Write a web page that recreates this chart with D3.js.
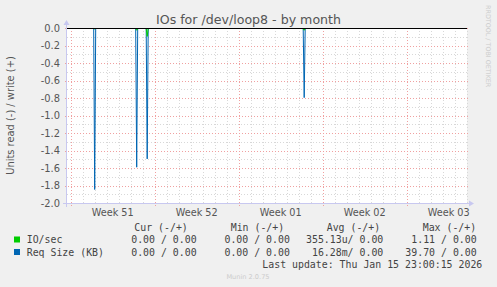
<!DOCTYPE html>
<html>
<head>
<meta charset="utf-8">
<script src="https://cdn.jsdelivr.net/npm/d3@7"></script>
<style>
body { margin: 0; background: #f0f0f0; }
text { font-family: "DejaVu Sans", sans-serif; }
.mono { font-family: "DejaVu Sans Mono", monospace; white-space: pre; }
</style>
</head>
<body>
<script>
// chart data
var timeStart = new Date("2025-12-14T16:36:00Z");
var timeEnd = new Date("2026-01-17T00:36:00Z");
var weekStarts = ["2025-12-15", "2025-12-22", "2025-12-29", "2026-01-05", "2026-01-12"];
var weekLabels = ["Week 51", "Week 52", "Week 01", "Week 02", "Week 03"];
var yTicks = [0, -0.2, -0.4, -0.6, -0.8, -1.0, -1.2, -1.4, -1.6, -1.8, -2.0];

// read side is drawn negative
var spikeTimes = ["2025-12-17T00:00:00Z", "2025-12-20T12:00:00Z", "2025-12-21T09:00:00Z", "2026-01-03T11:00:00Z"];
var reqSizeRead = [-1.84, -1.585, -1.49, -0.79];
var ioRead = [-0.005, -0.02, -0.09, -0.02];

var legendNames = ["IO/sec", "Req Size (KB)"];
var legendColors = ["#00cc00", "#0066b3"];
var legendCur = ["0.00 / 0.00", "0.00 / 0.00"];
var legendMin = ["0.00 / 0.00", "0.00 / 0.00"];
var legendAvg = ["355.13u/ 0.00", "16.28m/ 0.00"];
var legendMax = ["1.11 / 0.00", "39.70 / 0.00"];

var width = 497;
var height = 287;
var plotLeft = 67, plotRight = 467, plotTop = 28, plotBottom = 203;

var svg = d3.select("body").append("svg")
    .attr("width", width)
    .attr("height", height);

svg.append("rect")
    .attr("x", 0).attr("y", 0)
    .attr("width", width).attr("height", height)
    .attr("fill", "#f0f0f0");

var x = d3.scaleUtc().domain([timeStart, timeEnd]).range([plotLeft, plotRight]);
var y = d3.scaleLinear().domain([-2, 0]).range([plotBottom, plotTop]);

// plot area
svg.append("rect")
    .attr("x", plotLeft).attr("y", plotTop)
    .attr("width", plotRight - plotLeft).attr("height", plotBottom - plotTop)
    .attr("fill", "#ffffff");

// minor grid
var days = d3.utcDay.range(d3.utcDay.ceil(timeStart), timeEnd);
svg.selectAll(".vminor").data(days).enter().append("line")
    .attr("x1", function(d){ return Math.round(x(d)) + 0.5; })
    .attr("x2", function(d){ return Math.round(x(d)) + 0.5; })
    .attr("y1", plotTop).attr("y2", plotBottom)
    .attr("stroke", "#d8d8d8")
    .attr("stroke-dasharray", "1,2");

var tenths = d3.range(-19, 0, 2).map(function(v){ return v / 10; });
svg.selectAll(".hminor").data(tenths).enter().append("line")
    .attr("x1", plotLeft).attr("x2", plotRight)
    .attr("y1", function(d){ return Math.round(y(d)) + 0.5; })
    .attr("y2", function(d){ return Math.round(y(d)) + 0.5; })
    .attr("stroke", "#d8d8d8")
    .attr("stroke-dasharray", "1,2");

// major grid
var weeks = weekStarts.map(function(s){ return new Date(s + "T00:00:00Z"); });
svg.selectAll(".vmajor").data(weeks).enter().append("line")
    .attr("x1", function(d){ return Math.round(x(d)) + 0.5; })
    .attr("x2", function(d){ return Math.round(x(d)) + 0.5; })
    .attr("y1", plotTop).attr("y2", plotBottom + 3)
    .attr("stroke", "#f0a0a0")
    .attr("stroke-dasharray", "1,2");

svg.selectAll(".hmajor").data(yTicks).enter().append("line")
    .attr("x1", plotLeft - 2).attr("x2", plotRight + 2)
    .attr("y1", function(d){ return Math.round(y(d)) + 0.5; })
    .attr("y2", function(d){ return Math.round(y(d)) + 0.5; })
    .attr("stroke", "#f0a0a0")
    .attr("stroke-dasharray", "1,2");

// y tick labels
svg.selectAll(".ylab").data(yTicks).enter().append("text")
    .attr("x", 60)
    .attr("y", function(d){ return y(d); })
    .attr("dy", "0.36em")
    .attr("text-anchor", "end")
    .attr("font-size", "9.9px")
    .attr("fill", "#555")
    .text(function(d){ return d3.format(".1f")(d).replace("−", "-"); });

// week labels, centred in each week
svg.selectAll(".xlab").data(weeks).enter().append("text")
    .attr("x", function(d){ return x(d3.utcHour.offset(d, 84)); })
    .attr("y", 215.5)
    .attr("text-anchor", "middle")
    .attr("font-size", "9.7px")
    .attr("fill", "#555")
    .text(function(d, i){ return weekLabels[i]; });

// series: each spike is a one-step excursion from zero
function spikePoints(vals) {
    var pts = [[timeStart, 0]];
    spikeTimes.forEach(function(t, i){
        var d = new Date(t);
        pts.push([d3.utcHour.offset(d, -2), 0]);
        pts.push([d, vals[i]]);
        pts.push([d3.utcHour.offset(d, 2), 0]);
    });
    pts.push([timeEnd, 0]);
    return pts;
}

var line = d3.line()
    .x(function(d){ return x(d[0]); })
    .y(function(d){ return y(d[1]) + 0.5; });

svg.append("path")
    .datum(spikePoints(reqSizeRead))
    .attr("d", line)
    .attr("fill", "none")
    .attr("stroke", legendColors[1])
    .attr("stroke-width", 1);

svg.append("path")
    .datum(spikePoints(ioRead))
    .attr("d", line)
    .attr("fill", "none")
    .attr("stroke", legendColors[0])
    .attr("stroke-width", 1);

// zero rule on top of the series
svg.append("line")
    .attr("x1", plotLeft).attr("x2", plotRight)
    .attr("y1", y(0) + 0.5).attr("y2", y(0) + 0.5)
    .attr("stroke", "#000")
    .attr("stroke-width", 1);

// axes with arrows
var axisColor = "#c8c8f0";
svg.append("line")
    .attr("x1", plotLeft - 0.5).attr("x2", plotLeft - 0.5)
    .attr("y1", plotBottom + 4).attr("y2", plotTop - 4)
    .attr("stroke", axisColor);
svg.append("path")
    .attr("d", "M" + (plotLeft - 3.5) + "," + (plotTop - 3) + "L" + (plotLeft - 0.5) + "," + (plotTop - 8) + "L" + (plotLeft + 2.5) + "," + (plotTop - 3) + "Z")
    .attr("fill", axisColor);
svg.append("line")
    .attr("x1", plotLeft - 4).attr("x2", plotRight + 3)
    .attr("y1", plotBottom + 0.5).attr("y2", plotBottom + 0.5)
    .attr("stroke", axisColor);
svg.append("path")
    .attr("d", "M" + (plotRight + 2) + "," + (plotBottom - 2.5) + "L" + (plotRight + 7) + "," + (plotBottom + 0.5) + "L" + (plotRight + 2) + "," + (plotBottom + 3.5) + "Z")
    .attr("fill", axisColor);

// title
svg.append("text")
    .attr("x", 248.5).attr("y", 24)
    .attr("text-anchor", "middle")
    .attr("font-size", "12.6px")
    .attr("fill", "#555")
    .text("IOs for /dev/loop8 - by month");

// y axis title
svg.append("text")
    .attr("transform", "translate(14," + ((plotTop + plotBottom) / 2) + ") rotate(-90)")
    .attr("text-anchor", "middle")
    .attr("font-size", "9.9px")
    .attr("fill", "#555")
    .text("Units read (-) / write (+)");

// side credit
svg.append("text")
    .attr("transform", "translate(485.5,5) rotate(90)")
    .attr("text-anchor", "start")
    .attr("font-size", "6.4px")
    .attr("fill", "#cccccc")
    .text("RRDTOOL / TOBI OETIKER");

// legend
var mono = "9.9px";
var headers = [["Cur (-/+)", 134.3], ["Min (-/+)", 230.7], ["Avg (-/+)", 326.7], ["Max (-/+)", 422.7]];
svg.selectAll(".lhead").data(headers).enter().append("text")
    .attr("class", "mono")
    .attr("x", function(d){ return d[1]; })
    .attr("y", 231)
    .attr("font-size", mono)
    .attr("fill", "#444")
    .text(function(d){ return d[0]; });

var rowY = [243, 255.5];
legendNames.forEach(function(name, i){
    svg.append("rect")
        .attr("x", 14).attr("y", rowY[i] - 6.5)
        .attr("width", 6).attr("height", 6)
        .attr("fill", legendColors[i]);
    var cols = [[name, 26.7, "start"], [legendCur[i], 196.6, "end"], [legendMin[i], 289.9, "end"],
                [legendAvg[i], 383.3, "end"], [legendMax[i], 476.7, "end"]];
    cols.forEach(function(c){
        svg.append("text")
            .attr("class", "mono")
            .attr("x", c[1]).attr("y", rowY[i])
            .attr("text-anchor", c[2])
            .attr("font-size", mono)
            .attr("fill", "#444")
            .text(c[0]);
    });
});

svg.append("text")
    .attr("class", "mono")
    .attr("x", 482.3).attr("y", 268)
    .attr("text-anchor", "end")
    .attr("font-size", mono)
    .attr("fill", "#444")
    .text("Last update: Thu Jan 15 23:00:15 2026");

svg.append("text")
    .attr("x", 248).attr("y", 279)
    .attr("text-anchor", "middle")
    .attr("font-size", "6.6px")
    .attr("fill", "#cccccc")
    .text("Munin 2.0.75");
</script>
</body>
</html>
